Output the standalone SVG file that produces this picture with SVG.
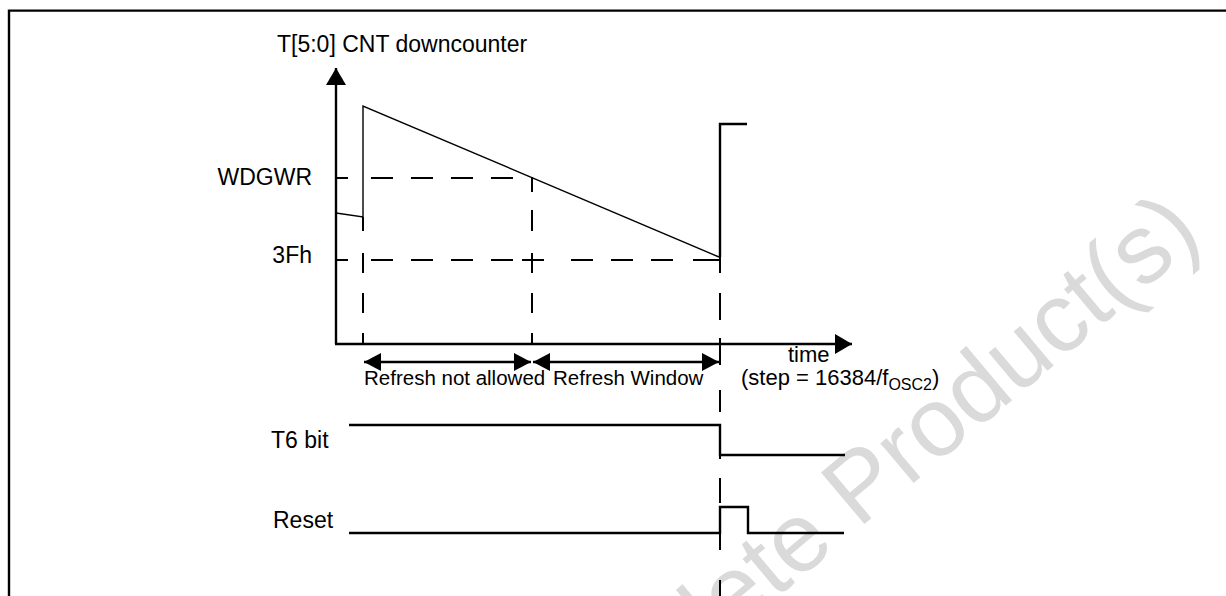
<svg xmlns="http://www.w3.org/2000/svg" width="1226" height="596" viewBox="0 0 1226 596">
  <style>
    .txt { font-family: "Liberation Sans", Arial, sans-serif; fill: #000; }
    .lbl { font-size: 23px; }
    .small { font-size: 20.5px; }
    .thick { stroke: #000; stroke-width: 2.4; fill: none; }
    .thin { stroke: #000; stroke-width: 1.4; fill: none; }
    .dash { stroke: #000; stroke-width: 2; fill: none; }
    .wm { font-family: "Liberation Sans", Arial, sans-serif; font-size: 98px; fill: #dadada; }
  </style>
  <defs>
    <marker id="ah" viewBox="0 0 17 18" refX="17" refY="9" markerWidth="17" markerHeight="18" markerUnits="userSpaceOnUse" orient="auto-start-reverse">
      <path d="M0,0 L17,9 L0,18 Z" fill="#000"/>
    </marker>
    <marker id="axh" viewBox="0 0 17 20" refX="17" refY="10" markerWidth="17" markerHeight="20" markerUnits="userSpaceOnUse" orient="auto">
      <path d="M0,0 L17,10 L0,20 Z" fill="#000"/>
    </marker>
  </defs>
  <rect width="1226" height="596" fill="#fff"/>

  <g id="watermark">
    <text class="wm" transform="translate(537,799) rotate(-40)">Obsolete Product(s)</text>
  </g>

  <g id="frame">
    <path class="thick" d="M9,600 V10.6 H1230" stroke-width="2.6"/>
  </g>

  <g id="axes">
    <path class="thick" d="M336,344 V68" marker-end="url(#axh)"/>
    <path class="thick" d="M335,344 H852" marker-end="url(#axh)"/>
    <text class="txt" x="277" y="52" style="font-size:23px">T[5:0] CNT downcounter</text>
    <text class="txt" x="788" y="362" style="font-size:22px">time</text>
    <text class="txt" x="741" y="385" style="font-size:22px">(step = 16384/f<tspan dy="5" style="font-size:16px">OSC2</tspan><tspan dy="-5">)</tspan></text>
  </g>

  <g id="level-labels">
    <text class="txt lbl" x="312" y="185" text-anchor="end">WDGWR</text>
    <text class="txt lbl" x="312" y="263" text-anchor="end">3Fh</text>
  </g>

  <g id="counter">
    <path class="thin" d="M336,213 L363,217 V106 L719,257"/>
    <path class="thick" d="M720,257 V124 H747"/>
  </g>

  <g id="connectors">
    <path class="dash" d="M336,178 H348 M371,178 H393 M411,178 H433 M451,178 H473 M491,178 H513 M531,178 H533"/>
    <path class="dash" d="M336,260 H348 M371,260 H393 M411,260 H433 M451,260 H473 M491,260 H513 M522,260 H544 M571,260 H593 M611,260 H633 M651,260 H673 M693,260 H720"/>
    <path class="dash" d="M363,217 V231 M363,253 V273 M363,293 V313 M363,333 V344"/>
    <path class="dash" d="M532,178 V192 M532,210 V231 M532,253 V273 M532,293 V313 M532,333 V344"/>
    <path class="dash" d="M720,257 V273 M720,293 V320 M720,338 V365 M720,390 V412 M720,455 V459 M720,478 V503 M720,533 V550 M720,580 V600"/>
  </g>

  <g id="refresh-arrows">
    <path class="thick" d="M364,362 H531" marker-start="url(#ah)" marker-end="url(#ah)"/>
    <path class="thick" d="M533,362 H719" marker-start="url(#ah)" marker-end="url(#ah)"/>
    <text class="txt small" x="364" y="385">Refresh not allowed</text>
    <text class="txt small" x="553" y="385">Refresh Window</text>
  </g>

  <g id="t6-bit">
    <text class="txt lbl" x="271" y="448">T6 bit</text>
    <path class="thick" d="M349,425 H720 V455 H845"/>
  </g>

  <g id="reset">
    <text class="txt lbl" x="273" y="528">Reset</text>
    <path class="thick" d="M349,533 H720 V507 H748 V533 H844"/>
  </g>
</svg>
